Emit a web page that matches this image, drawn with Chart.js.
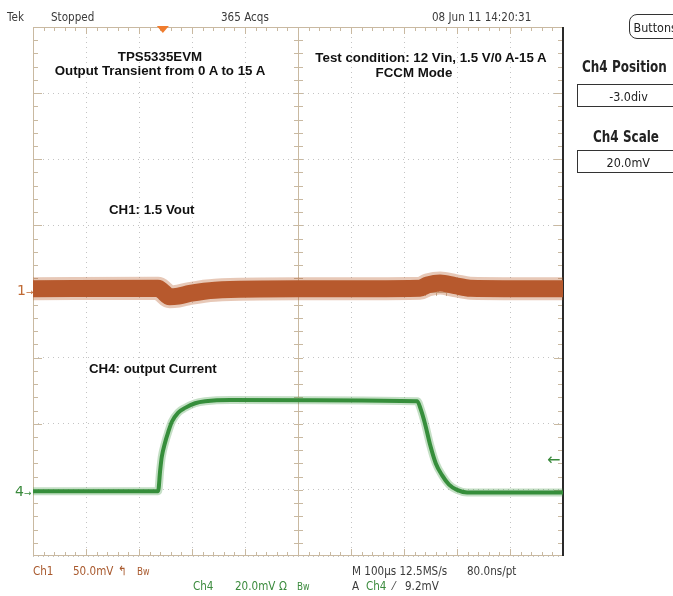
<!DOCTYPE html>
<html>
<head>
<meta charset="utf-8">
<script src="https://cdn.jsdelivr.net/npm/chart.js@4"></script>
<style>
  body { margin: 0; background: #fff; }
  #scope { position: relative; width: 673px; height: 596px; overflow: hidden; }
  #scope canvas { position: absolute; left: 0; top: 0; }
  .t { position: absolute; white-space: nowrap; line-height: 1; }
  .cond { font-family: "DejaVu Sans", sans-serif; font-size: 13px; color: #3a3a3a;
          transform: scaleX(0.8); transform-origin: left center; }
  .note { font-family: "Liberation Sans", Arial, sans-serif; font-weight: bold; font-size: 13.3px; color: #111; }
  .side { font-family: "DejaVu Sans", sans-serif; font-weight: bold; font-size: 15px; color: #222;
          transform: scaleX(0.8); transform-origin: left center; }
  .box { position: absolute; border: 1px solid #333; background: #fff; text-align: center; }
  .box span { display: inline-block; font-family: "DejaVu Sans", sans-serif; font-size: 13px; color: #222;
              transform: scaleX(0.86); }
  .orange { color: #a8582c; }
  .green { color: #3a8a3c; }
  .mark { font-family: "DejaVu Sans", sans-serif; font-size: 14px; }
</style>
</head>
<body>
<div id="scope">
  <canvas id="scopeChart" width="673" height="596"></canvas>

  <!-- status line -->
  <div class="t cond" style="left:7px; top:10px;">Tek</div>
  <div class="t cond" style="left:51px; top:10px;">Stopped</div>
  <div class="t cond" style="left:221px; top:10px;">365 Acqs</div>
  <div class="t cond" style="left:432px; top:10px;">08 Jun 11 14:20:31</div>
  <div class="box" style="left:629px; top:14px; width:50px; height:23px; line-height:23px; border-radius:8px;"><span>Buttons</span></div>

  <!-- side menu -->
  <div class="t side" style="left:582px; top:60px;">Ch4 Position</div>
  <div class="box" style="left:577px; top:84px; width:100px; height:21px; line-height:21px;"><span>-3.0div</span></div>
  <div class="t side" style="left:593px; top:130px;">Ch4 Scale</div>
  <div class="box" style="left:577px; top:150px; width:100px; height:21px; line-height:21px;"><span>20.0mV</span></div>

  <!-- notes on the screen -->
  <div class="t note" style="left:40px; width:240px; text-align:center; top:50px;">TPS5335EVM</div>
  <div class="t note" style="left:20px; width:280px; text-align:center; top:64px;">Output Transient from 0 A to 15 A</div>
  <div class="t note" style="left:301px; width:260px; text-align:center; top:51px;">Test condition: 12 Vin, 1.5 V/0 A-15 A</div>
  <div class="t note" style="left:314px; width:200px; text-align:center; top:66px;">FCCM Mode</div>
  <div class="t note" style="left:109px; top:203px;">CH1: 1.5 Vout</div>
  <div class="t note" style="left:89px; top:362px;">CH4: output Current</div>

  <!-- channel markers -->
  <div class="t mark orange" style="left:17px; top:283px; color:#c06a34;">1<span style="font-size:9px;">&#8594;</span></div>
  <div class="t mark green" style="left:15px; top:484px;">4<span style="font-size:9px;">&#8594;</span></div>
  <div class="t green" style="left:547px; top:452px; font-family:'DejaVu Sans',sans-serif; font-size:16px;">&#8592;</div>

  <!-- readouts -->
  <div class="t cond orange" style="left:33px; top:564px;">Ch1</div>
  <div class="t cond orange" style="left:73px; top:564px;">50.0mV</div>
  <div class="t cond orange" style="left:118px; top:564px;">&#8624;</div>
  <div class="t cond orange" style="left:137px; top:564px;"><span style="font-size:11px;">B</span><span style="font-size:10px;">w</span></div>
  <div class="t cond green" style="left:193px; top:579px;">Ch4</div>
  <div class="t cond green" style="left:235px; top:579px;">20.0mV</div>
  <div class="t cond green" style="left:279px; top:579px;">&#937;</div>
  <div class="t cond green" style="left:297px; top:579px;"><span style="font-size:11px;">B</span><span style="font-size:10px;">w</span></div>
  <div class="t cond" style="left:352px; top:564px;">M 100&micro;s 12.5MS/s</div>
  <div class="t cond" style="left:467px; top:564px;">80.0ns/pt</div>
  <div class="t cond" style="left:352px; top:579px;">A</div>
  <div class="t cond green" style="left:366px; top:579px;">Ch4</div>
  <div class="t cond" style="left:393px; top:579px;">&#8260;</div>
  <div class="t cond" style="left:405px; top:579px;">9.2mV</div>
</div>

<script>
// time axis in divisions (10 div across), level in divisions (center = 0)
const ch1Time  = [0, 2.36, 2.45, 2.58, 2.74, 2.96, 3.43, 5.0, 7.3, 7.45, 7.68, 7.96, 8.25, 10];
const ch1Level = [0.04, 0.05, 0.0, -0.08, -0.07, -0.03, 0.02, 0.04, 0.05, 0.1, 0.13, 0.09, 0.05, 0.04];

const ch4Time  = [0, 2.36, 2.40, 2.43, 2.49, 2.55, 2.62, 2.74, 2.87, 3.06, 3.25, 3.72,
                  7.25, 7.32, 7.40, 7.49, 7.60, 7.72, 7.85, 8.0, 8.19, 10];
const ch4Level = [-3.02, -3.02, -2.70, -2.50, -2.29, -2.13, -1.97, -1.83, -1.76, -1.69, -1.66, -1.64,
                  -1.66, -1.79, -2.01, -2.31, -2.60, -2.78, -2.92, -3.00, -3.04, -3.04];

const xDivs = [0, 10];
const yDivs = [-4, 4];
const triggerTime = 2.45;

const toPoints = (xs, ys) => xs.map((x, i) => ({ x, y: ys[i] }));

// graticule: centre cross, edge ticks, trigger marker
const graticule = {
  id: 'graticule',
  beforeDatasetsDraw(chart) {
    const { ctx, chartArea: a, scales: { x, y } } = chart;
    const cx = Math.round(x.getPixelForValue(5)), cy = Math.round(y.getPixelForValue(0));
    ctx.save();
    ctx.strokeStyle = '#c9b9a1';
    ctx.lineWidth = 1;
    ctx.beginPath();
    // centre lines
    ctx.moveTo(cx + 0.5, a.top); ctx.lineTo(cx + 0.5, a.bottom);
    ctx.moveTo(a.left, cy + 0.5); ctx.lineTo(a.right, cy + 0.5);
    // left, top, bottom border
    ctx.moveTo(a.left + 0.5, a.top); ctx.lineTo(a.left + 0.5, a.bottom);
    ctx.moveTo(a.left, a.top + 0.5); ctx.lineTo(a.right, a.top + 0.5);
    ctx.moveTo(a.left, a.bottom - 0.5); ctx.lineTo(a.right, a.bottom - 0.5);
    for (let i = 1; i < 50; i++) {
      const px = Math.round(x.getPixelForValue(i * 0.2)) + 0.5;
      const major = i % 5 === 0;
      const len = major ? 7 : 4;
      ctx.moveTo(px, cy - 3); ctx.lineTo(px, cy + 4);
      ctx.moveTo(px, a.top); ctx.lineTo(px, a.top + len);
      ctx.moveTo(px, a.bottom); ctx.lineTo(px, a.bottom - len);
    }
    for (let i = 1; i < 40; i++) {
      const py = Math.round(y.getPixelForValue(-4 + i * 0.2)) + 0.5;
      const major = i % 5 === 0;
      const len = major ? 9 : 5;
      ctx.moveTo(cx - 4, py); ctx.lineTo(cx + 5, py);
      ctx.moveTo(a.left, py); ctx.lineTo(a.left + len, py);
      ctx.moveTo(a.right, py); ctx.lineTo(a.right - len, py);
    }
    ctx.stroke();
    // right border is dark
    ctx.strokeStyle = '#2a2a2a';
    ctx.lineWidth = 2;
    ctx.beginPath();
    ctx.moveTo(a.right, a.top); ctx.lineTo(a.right, a.bottom);
    ctx.stroke();
    // trigger position marker
    const tx = x.getPixelForValue(triggerTime);
    ctx.fillStyle = '#f07c2e';
    ctx.beginPath();
    ctx.moveTo(tx - 6, a.top - 1); ctx.lineTo(tx + 6, a.top - 1); ctx.lineTo(tx, a.top + 6);
    ctx.closePath();
    ctx.fill();
    ctx.restore();
  }
};

const ctx = document.getElementById('scopeChart').getContext('2d');
new Chart(ctx, {
  type: 'scatter',
  data: {
    datasets: [
      { label: 'Ch1 halo', data: toPoints(ch1Time, ch1Level), showLine: true, pointRadius: 0,
        borderColor: 'rgba(186,96,50,0.35)', borderWidth: 23, cubicInterpolationMode: 'monotone' },
      { label: 'Ch1', data: toPoints(ch1Time, ch1Level), showLine: true, pointRadius: 0,
        borderColor: '#b5552b', borderWidth: 17, cubicInterpolationMode: 'monotone' },
      { label: 'Ch4 halo', data: toPoints(ch4Time, ch4Level), showLine: true, pointRadius: 0,
        borderColor: 'rgba(60,150,64,0.3)', borderWidth: 8, cubicInterpolationMode: 'monotone' },
      { label: 'Ch4', data: toPoints(ch4Time, ch4Level), showLine: true, pointRadius: 0,
        borderColor: '#348c3a', borderWidth: 4, cubicInterpolationMode: 'monotone' }
    ]
  },
  options: {
    responsive: false,
    animation: false,
    events: [],
    layout: { padding: { left: 33, top: 27, right: 110, bottom: 40 } },
    plugins: { legend: { display: false }, tooltip: { enabled: false } },
    scales: {
      x: {
        type: 'linear', min: xDivs[0], max: xDivs[1],
        ticks: { display: false, stepSize: 1 },
        grid: { color: '#c4c4c4', drawTicks: false, lineWidth: 1 },
        border: { display: false, dash: [1, 4] },
        afterFit: s => { s.height = 0; }
      },
      y: {
        type: 'linear', min: yDivs[0], max: yDivs[1],
        ticks: { display: false, stepSize: 1 },
        grid: { color: '#c4c4c4', drawTicks: false, lineWidth: 1 },
        border: { display: false, dash: [1, 4] },
        afterFit: s => { s.width = 0; }
      }
    }
  },
  plugins: [graticule]
});
</script>
</body>
</html>
